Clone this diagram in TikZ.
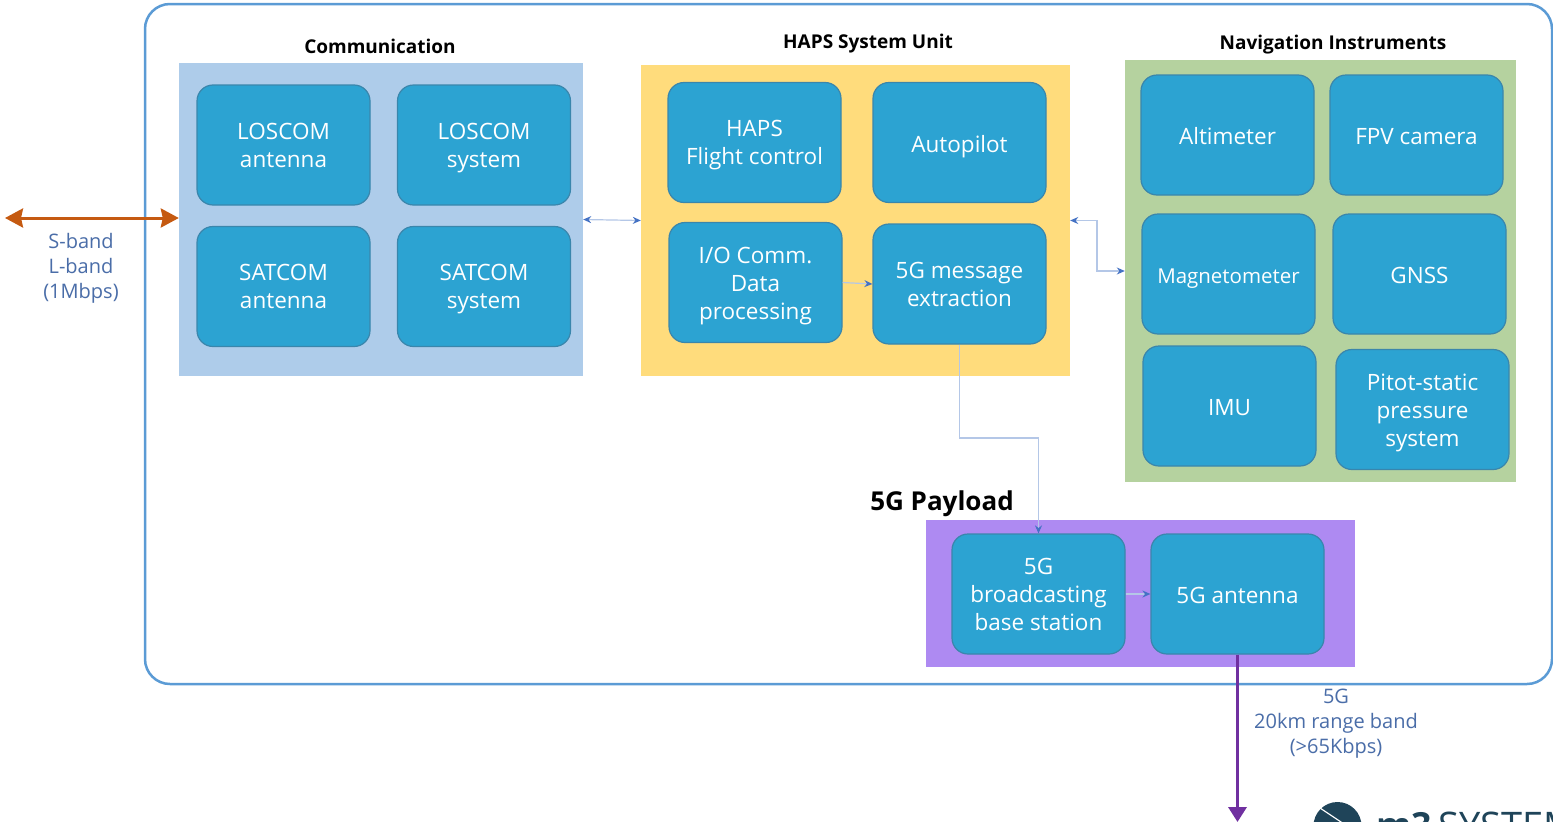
\documentclass[tikz,border=0pt]{standalone}
\usepackage{fontspec}
\setmainfont{Open Sans}
\usepackage{tikz}
\usetikzlibrary{arrows.meta}
\definecolor{unitblue}{HTML}{2CA3D2}
\definecolor{unitedge}{HTML}{3A86AC}
\definecolor{framblue}{HTML}{5B9BD5}
\definecolor{commpanel}{HTML}{AECCEA}
\definecolor{hapspanel}{HTML}{FFDC7C}
\definecolor{navpanel}{HTML}{B5D29F}
\definecolor{paypanel}{HTML}{AE8AF2}
\definecolor{linkline}{HTML}{B4C7E7}
\definecolor{linktip}{HTML}{4472C4}
\definecolor{bandtext}{HTML}{4A6DA8}
\definecolor{bandorange}{HTML}{C55A11}
\definecolor{bandpurple}{HTML}{7030A0}
\definecolor{logoblue}{HTML}{1F4459}
\tikzset{
    unit/.style={rectangle,rounded corners=16pt,draw=unitedge,line width=1.2pt,fill=unitblue,
        text=white,align=center,minimum width=173pt,minimum height=120pt,inner sep=0pt,
        font=\fontsize{22.5}{28}\selectfont,text height=19pt,text depth=0pt},
    twolines/.style={unit,text height=44.5pt},
    threelines/.style={unit,text height=73.5pt},
    panel/.style={rectangle,draw=none,inner sep=0pt},
    paneltitle/.style={inner sep=0pt,font=\fontsize{19}{23}\selectfont\bfseries},
    bandlabel/.style={inner sep=0pt,align=center,text=bandtext,font=\fontsize{20}{25}\selectfont},
    link/.style={draw=linkline,line width=1.2pt},
    linkend/.style={-{Stealth[length=8pt,width=7pt,color=linktip]}},
    linkboth/.style={{Stealth[length=8pt,width=7pt,color=linktip]}-{Stealth[length=8pt,width=7pt,color=linktip]}}
}
\begin{document}
\begin{tikzpicture}[x=1pt,y=-1pt]
    \useasboundingbox (0,0) rectangle (1553,822);
    \clip (0,0) rectangle (1553,822);
    \fill[white] (0,0) rectangle (1553,822);

    % Outer frame
    \draw[framblue,line width=2.5pt,rounded corners=25pt] (145,4) rectangle (1552,684);

    % Panels
    \node[panel,fill=commpanel,minimum width=404pt,minimum height=313pt] (commpanel) at (381,219.5) {};
    \node[panel,fill=hapspanel,minimum width=429pt,minimum height=311pt] (hapspanel) at (855.5,220.5) {};
    \node[panel,fill=navpanel,minimum width=391pt,minimum height=422pt] (navpanel) at (1320.5,271) {};
    \node[panel,fill=paypanel,minimum width=429pt,minimum height=147pt] (paypanel) at (1140.5,593.5) {};

    % Titles
    \node[paneltitle] (commtitle) at (380,46) {Communication};
    \node[paneltitle] (hapstitle) at (868,44) {HAPS System Unit};
    \node[paneltitle] (navtitle) at (1333,45) {Navigation Instruments};
    \node[paneltitle,font=\fontsize{26}{30}\selectfont\bfseries] (paytitle) at (942,504) {5G Payload};

    % Communication
    \node[twolines] (losant) at (283.5,145) {LOSCOM\\antenna};
    \node[twolines] (lossys) at (484,145) {LOSCOM\\system};
    \node[twolines] (satant) at (283.5,286.5) {SATCOM\\antenna};
    \node[twolines] (satsys) at (484,286.5) {SATCOM\\system};

    % HAPS system unit
    \node[twolines] (flight) at (754.5,142.5) {HAPS\\Flight control};
    \node[unit] (autopilot) at (959.5,142.5) {Autopilot};
    \node[threelines] (iocomm) at (755.5,282.5) {I/O Comm.\\Data\\processing};
    \node[twolines] (msgext) at (959.5,284) {5G message\\extraction};

    % Navigation instruments
    \node[unit] (altimeter) at (1227.5,135) {Altimeter};
    \node[unit] (fpv) at (1416.5,135) {FPV camera};
    \node[unit,font=\fontsize{20.5}{28}\selectfont] (magneto) at (1228.5,274) {Magnetometer};
    \node[unit] (gnss) at (1419.5,274) {GNSS};
    \node[unit] (imu) at (1229.5,406) {IMU};
    \node[threelines] (pitot) at (1422.5,409.5) {Pitot-static\\pressure\\system};

    % 5G payload
    \node[threelines] (basestation) at (1038.5,594) {5G\\broadcasting\\base station};
    \node[unit] (fiveant) at (1237.5,594) {5G antenna};

    % Links
    \draw[link,linkboth] (commpanel.east) -- (hapspanel.west);
    \draw[link,linkboth] (hapspanel.east) -- (1097,220.5) |- (navpanel.west);
    \draw[link,linkend] (iocomm.east) -- (msgext.west);
    \draw[link,linkend] (msgext.south) |- (1038.5,438) -- (basestation.north);
    \draw[link,linkend] (basestation.east) -- (fiveant.west);

    % External bands
    \coordinate (groundend) at (5,218);
    \coordinate (fiveend) at (1237.5,822);
    \draw[bandorange,line width=3pt,{Stealth[length=18pt,width=19pt,inset=2pt]}-{Stealth[length=18pt,width=19pt,inset=2pt]}] (groundend) -- (commpanel.west |- groundend);
    \draw[bandpurple,line width=3.5pt,-{Stealth[length=15pt,width=18pt,inset=0pt]}] (fiveant.south) -- (fiveend);
    \node[bandlabel] (sband) at (81,268) {S-band\\L-band\\(1Mbps)};
    \node[bandlabel] (fiveband) at (1336,724) {5G\\20km range band\\(>65Kbps)};

    % Logo, cut by the lower edge
    \fill[logoblue] (1337.5,826) circle (24);
    \draw[white,line width=1.2pt] (1320,808) -- (1350,828);
    \node[anchor=base west,inner sep=0pt,text=logoblue,font=\fontsize{36}{40}\selectfont\bfseries] (logoname) at (1376,838) {m3};
    \node[anchor=base west,inner sep=0pt,text=logoblue,font=\fontsize{38}{40}\selectfont] (logosys) at (1438,839) {SYSTEM};
\end{tikzpicture}
\end{document}
